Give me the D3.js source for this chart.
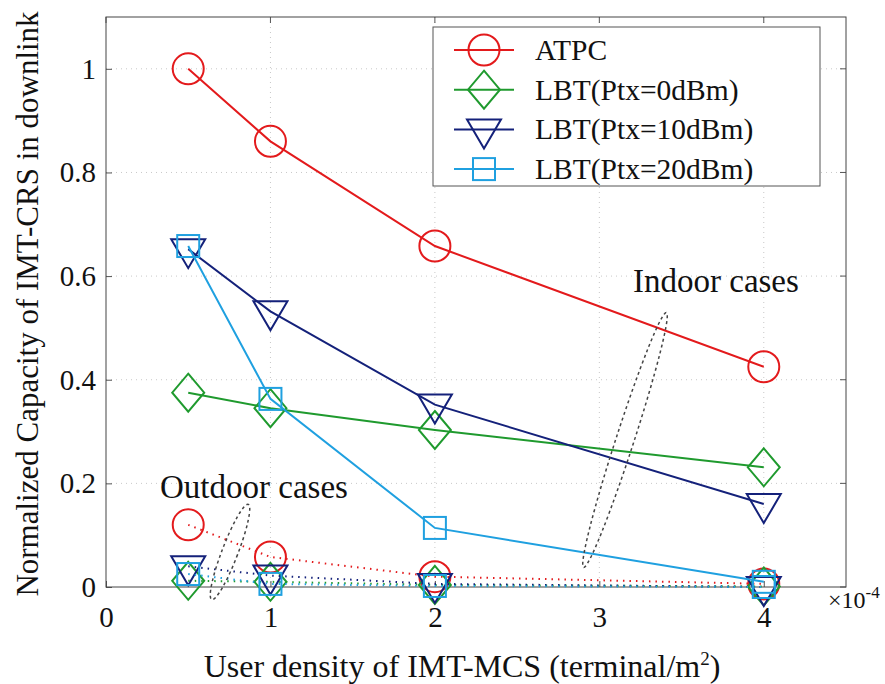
<!DOCTYPE html>
<html><head><meta charset="utf-8">
<script src="https://cdn.jsdelivr.net/npm/d3@7"></script>
<style>body{margin:0;background:#fff}svg{display:block}</style>
</head><body>
<svg id="c" width="885" height="684"></svg>
<script>
const xs = [0.5, 1, 2, 4];
const seriesNames = ["ATPC", "LBT(Ptx=0dBm)", "LBT(Ptx=10dBm)", "LBT(Ptx=20dBm)"];
const colors = ["#e31a1c", "#1f9a2e", "#14217a", "#1fa0e0"];
const symbols = ["circle", "diamond", "triangle", "square"];
const indoor = [
  [1.0, 0.86, 0.658, 0.425],
  [0.375, 0.345, 0.303, 0.231],
  [0.652, 0.532, 0.352, 0.16],
  [0.658, 0.363, 0.114, 0.01]
];
const outdoor = [
  [0.12, 0.058, 0.02, 0.006],
  [0.012, 0.01, 0.004, 0.001],
  [0.04, 0.022, 0.006, 0.0],
  [0.025, 0.006, 0.002, 0.0]
];
const xTicks = [0, 1, 2, 3, 4];
const yTicks = [0, 0.2, 0.4, 0.6, 0.8, 1];

const FF = '"Liberation Serif"';
const svg = d3.select("#c");
const L = 106, R = 846, T = 17, B = 587;
const x = d3.scaleLinear().domain([0, 4.5]).range([L, R]);
const y = d3.scaleLinear().domain([0, 1.1]).range([B, T]);

// grid
const g = svg.append("g");
g.selectAll(".gx").data(xTicks.slice(1)).enter().append("line")
  .attr("x1", d => x(d)).attr("x2", d => x(d)).attr("y1", T).attr("y2", B)
  .attr("stroke", "#c8c8c8").attr("stroke-dasharray", "1,4");
g.selectAll(".gy").data(yTicks.slice(1)).enter().append("line")
  .attr("y1", d => y(d)).attr("y2", d => y(d)).attr("x1", L).attr("x2", R)
  .attr("stroke", "#c8c8c8").attr("stroke-dasharray", "1,4");

// axes
const xa = svg.append("g").attr("transform", `translate(0,${B})`)
  .call(d3.axisBottom(x).tickValues(xTicks).tickSize(-6).tickPadding(19).tickFormat(d3.format("d")));
const ya = svg.append("g").attr("transform", `translate(${L},0)`)
  .call(d3.axisLeft(y).tickValues(yTicks).tickSize(-6).tickPadding(10).tickFormat(d => d === 0 ? "0" : d === 1 ? "1" : d3.format(".1f")(d)));
[xa, ya].forEach(a => {
  a.attr("font-family", null).attr("font-size", null);
  a.select(".domain").remove();
  a.selectAll("line").attr("stroke", "#555");
  a.selectAll("text").style("font-size", "29px").style("font-family", FF).attr("fill", "#111");
});
// top/right ticks
svg.selectAll(".tt").data(xTicks).enter().append("line")
  .attr("x1", d => x(d)).attr("x2", d => x(d)).attr("y1", T).attr("y2", T + 6).attr("stroke", "#555");
svg.selectAll(".tr").data(yTicks).enter().append("line")
  .attr("y1", d => y(d)).attr("y2", d => y(d)).attr("x1", R).attr("x2", R - 6).attr("stroke", "#555");
svg.append("rect").attr("x", L).attr("y", T).attr("width", R - L).attr("height", B - T)
  .attr("fill", "none").attr("stroke", "#444").attr("stroke-width", 1);

// markers
function marker(sel, sym, col) {
  if (sym === "circle") sel.append("circle").attr("r", 15.5);
  else if (sym === "diamond") sel.append("path").attr("d", "M0,-19L16,0L0,19L-16,0Z");
  else if (sym === "triangle") sel.append("path").attr("d", "M-17,-10L17,-10L0,19Z");
  else sel.append("rect").attr("x", -11).attr("y", -11).attr("width", 22).attr("height", 22);
  sel.selectAll("*").attr("fill", "none").attr("stroke", col).attr("stroke-width", 2);
}

const line = d3.line().x(d => x(d[0])).y(d => y(d[1]));
function drawSet(data, dotted) {
  data.forEach((vals, i) => {
    const pts = xs.map((xv, j) => [xv, vals[j]]);
    svg.append("path").datum(pts).attr("d", line).attr("fill", "none")
      .attr("stroke", colors[i]).attr("stroke-width", 2)
      .attr("stroke-dasharray", dotted ? "1.5,5" : null);
    pts.forEach(p => {
      const m = svg.append("g").attr("transform", `translate(${x(p[0])},${y(p[1])})`);
      marker(m, symbols[i], colors[i]);
    });
  });
}
drawSet(outdoor, true);
drawSet(indoor, false);

// ellipses
function ell(cx, cy, rx, ry, ang) {
  svg.append("ellipse").attr("cx", cx).attr("cy", cy).attr("rx", rx).attr("ry", ry)
    .attr("transform", `rotate(${ang},${cx},${cy})`)
    .attr("fill", "none").attr("stroke", "#444").attr("stroke-width", 1.5).attr("stroke-dasharray", "3,3");
}
ell(230, 552, 8, 51, 21);
ell(625, 440, 9, 134, 18);

function txt(xx, yy, size, s) {
  return svg.append("text").attr("x", xx).attr("y", yy).style("font-size", size + "px")
    .style("font-family", FF).attr("fill", "#111").text(s);
}
txt(160, 498, 33, "Outdoor cases");
txt(633, 292, 33, "Indoor cases");

// legend
const lg = svg.append("g");
lg.append("rect").attr("x", 433).attr("y", 27).attr("width", 387).attr("height", 159)
  .attr("fill", "#fff").attr("stroke", "#555");
seriesNames.forEach((n, i) => {
  const yy = 50 + i * 39.7;
  lg.append("line").attr("x1", 454).attr("x2", 514).attr("y1", yy).attr("y2", yy)
    .attr("stroke", colors[i]).attr("stroke-width", 2);
  const m = lg.append("g").attr("transform", `translate(484,${yy})`);
  marker(m, symbols[i], colors[i]);
  lg.append("text").attr("x", 535).attr("y", yy + 10).style("font-size", "29.5px")
    .style("font-family", FF).attr("fill", "#111").text(n);
});

// axis labels
const xl = svg.append("text").attr("x", 462).attr("y", 677).attr("text-anchor", "middle")
  .style("font-size", "32px").style("font-family", FF).attr("fill", "#111");
xl.append("tspan").text("User density of IMT-MCS (terminal/m");
xl.append("tspan").attr("dy", -12).style("font-size", "19px").text("2");
xl.append("tspan").attr("dy", 12).text(")");

svg.append("text").attr("transform", `translate(38,304) rotate(-90)`).attr("text-anchor", "middle")
  .style("font-size", "31px").style("font-family", FF).attr("fill", "#111")
  .text("Normalized Capacity of IMT-CRS in downlink");

const ex = svg.append("text").attr("x", 828).attr("y", 608).style("font-size", "24px")
  .style("font-family", FF).attr("fill", "#111");
ex.append("tspan").text("×10");
ex.append("tspan").attr("dy", -10).style("font-size", "17px").text("-4");
</script>
</body></html>
